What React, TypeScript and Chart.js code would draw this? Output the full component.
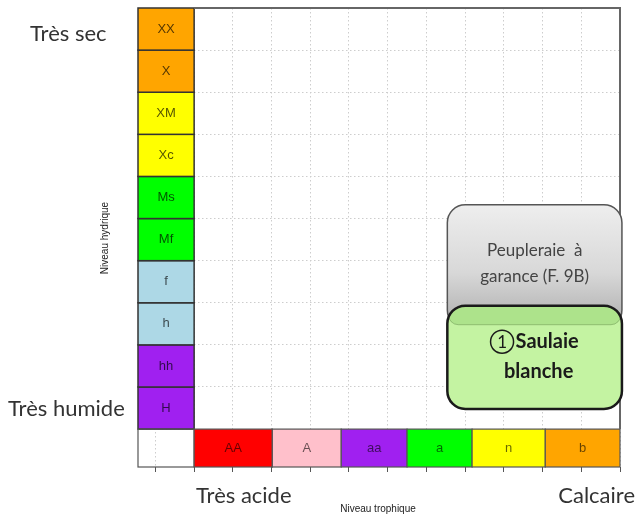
import React, { useEffect, useRef } from 'react';
import { Chart, registerables } from 'chart.js';

Chart.register(...registerables);

// Hydric levels (y axis), bottom to top
const hydricLevels = ['H', 'hh', 'h', 'f', 'Mf', 'Ms', 'Xc', 'XM', 'X', 'XX'];
const hydricColors = ['#A020F0', '#A020F0', '#ADD8E6', '#ADD8E6', '#00FF00', '#00FF00', '#FFFF00', '#FFFF00', '#FFA500', '#FFA500'];

// Trophic levels (x axis), left to right
const trophicLevels = ['AA', 'A', 'aa', 'a', 'n', 'b'];
const trophicColors = ['#FF0000', '#FFC0CB', '#A020F0', '#00FF00', '#FFFF00', '#FFA500'];
const trophicEdges = [0, 2.02, 3.8, 5.5, 7.18, 9.07, 11];

// Vegetation groups (boxes in data units)
const groupLines = [['Peupleraie  à', 'garance (F. 9B)'], ['Saulaie', 'blanche']];
const groupNumbers = ['', '1'];
const groupX0 = [6.54, 6.54];
const groupX1 = [11.05, 11.05];
const groupY0 = [2.4, 0.48];
const groupY1 = [5.33, 2.93];

const axisEndLabels = { ySec: 'Très sec', yHum: 'Très humide', xAcid: 'Très acide', xCalc: 'Calcaire' };
const xTitle = 'Niveau trophique';
const yTitle = 'Niveau hydrique';

const SANS = 'Lato, "Open Sans", sans-serif';

function rr(ctx: CanvasRenderingContext2D, x: number, y: number, w: number, h: number, r: number) {
  ctx.beginPath();
  ctx.moveTo(x + r, y);
  ctx.lineTo(x + w - r, y);
  ctx.arcTo(x + w, y, x + w, y + r, r);
  ctx.lineTo(x + w, y + h - r);
  ctx.arcTo(x + w, y + h, x + w - r, y + h, r);
  ctx.lineTo(x + r, y + h);
  ctx.arcTo(x, y + h, x, y + h - r, r);
  ctx.lineTo(x, y + r);
  ctx.arcTo(x, y, x + r, y, r);
  ctx.closePath();
}

const ecogramPlugin = {
  id: 'ecogram',
  afterDraw(chart: any) {
    const { ctx, scales } = chart;
    const xs = scales.x;
    const ys = scales.y;
    const px = (v: number) => xs.getPixelForValue(v);
    const py = (v: number) => ys.getPixelForValue(v);
    const xMin = xs.min;
    const yMin = ys.min;
    ctx.save();

    // hydric column
    hydricLevels.forEach((lab, i) => {
      const l = px(xMin), r = px(0), t = py(i + 1), b = py(i);
      ctx.fillStyle = hydricColors[i];
      ctx.fillRect(l, t, r - l, b - t);
      ctx.strokeStyle = '#333';
      ctx.lineWidth = 1.5;
      ctx.strokeRect(l, t, r - l, b - t);
      ctx.fillStyle = 'rgba(0,0,0,0.68)';
      ctx.font = '13px "Liberation Sans", Arial, sans-serif';
      ctx.textAlign = 'center';
      ctx.textBaseline = 'middle';
      ctx.fillText(lab, (l + r) / 2, (t + b) / 2);
    });

    // trophic strip
    {
      const l = px(xMin), r = px(0), t = py(0), b = py(yMin);
      ctx.strokeStyle = '#555';
      ctx.lineWidth = 1.2;
      ctx.strokeRect(l, t, r - l, b - t);
    }
    trophicLevels.forEach((lab, i) => {
      const l = px(trophicEdges[i]), r = px(trophicEdges[i + 1]), t = py(0), b = py(yMin);
      ctx.fillStyle = trophicColors[i];
      ctx.fillRect(l, t, r - l, b - t);
      ctx.strokeStyle = '#555';
      ctx.lineWidth = 1.2;
      ctx.strokeRect(l, t, r - l, b - t);
      ctx.fillStyle = 'rgba(0,0,0,0.6)';
      ctx.font = '13px "Liberation Sans", Arial, sans-serif';
      ctx.textAlign = 'center';
      ctx.textBaseline = 'middle';
      ctx.fillText(lab, (l + r) / 2, (t + b) / 2);
    });

    // plot frame
    {
      const l = px(0), r = px(11), t = py(10), b = py(0);
      ctx.strokeStyle = '#666';
      ctx.lineWidth = 2;
      ctx.beginPath();
      ctx.moveTo(l, t);
      ctx.lineTo(r, t);
      ctx.lineTo(r, b);
      ctx.stroke();
    }

    // group boxes
    groupLines.forEach((lines, i) => {
      const l = px(groupX0[i]), r = px(groupX1[i]), t = py(groupY1[i]), b = py(groupY0[i]);
      const w = r - l, h = b - t;
      const cx = (l + r) / 2;
      if (i === 0) {
        const g = ctx.createLinearGradient(0, t, 0, b);
        g.addColorStop(0, '#eeeeee');
        g.addColorStop(0.55, '#d8d8d8');
        g.addColorStop(1, '#acacac');
        rr(ctx, l, t, w, h, 18);
        ctx.fillStyle = g;
        ctx.fill();
        ctx.strokeStyle = '#555';
        ctx.lineWidth = 1.5;
        ctx.stroke();
        ctx.fillStyle = '#444';
        ctx.font = '17px ' + SANS;
        ctx.textAlign = 'center';
        ctx.textBaseline = 'middle';
        ctx.fillText(lines[0], cx, t + 46);
        ctx.fillText(lines[1], cx, t + 72);
      } else {
        rr(ctx, l, t, w, h, 18);
        ctx.fillStyle = '#c4f3a2';
        ctx.fill();
        ctx.save();
        rr(ctx, l, t, w, h, 18);
        ctx.clip();
        rr(ctx, l + 1, t, w - 2, 19, 10);
        ctx.fillStyle = '#ade38b';
        ctx.fill();
        ctx.strokeStyle = 'rgba(70,110,50,0.35)';
        ctx.lineWidth = 1;
        ctx.stroke();
        ctx.restore();
        rr(ctx, l, t, w, h, 18);
        ctx.strokeStyle = '#1a1a1a';
        ctx.lineWidth = 2.5;
        ctx.stroke();

        ctx.fillStyle = '#1a1a1a';
        ctx.font = 'bold 20px ' + SANS;
        ctx.textBaseline = 'middle';
        const tw = ctx.measureText(lines[0]).width;
        const cr = 11.5;
        const total = cr * 2 + 2 + tw;
        const sx = cx - total / 2;
        const ly = t + 36;
        ctx.beginPath();
        ctx.arc(sx + cr, ly, cr, 0, Math.PI * 2);
        ctx.lineWidth = 1.5;
        ctx.strokeStyle = '#1a1a1a';
        ctx.stroke();
        ctx.textAlign = 'center';
        ctx.font = '17px ' + SANS;
        ctx.fillText(groupNumbers[i], sx + cr, ly + 1);
        ctx.font = 'bold 20px ' + SANS;
        ctx.textAlign = 'left';
        ctx.fillText(lines[0], sx + cr * 2 + 2, ly);
        ctx.textAlign = 'center';
        ctx.fillText(lines[1], cx + 4, ly + 30);
      }
    });

    // axis end labels
    ctx.fillStyle = '#333';
    ctx.font = '22px ' + SANS;
    ctx.textBaseline = 'alphabetic';
    ctx.textAlign = 'left';
    ctx.fillText(axisEndLabels.ySec, 30, 41);
    ctx.fillText(axisEndLabels.yHum, 8, 416);
    ctx.fillText(axisEndLabels.xAcid, 196, 503);
    ctx.textAlign = 'right';
    ctx.fillText(axisEndLabels.xCalc, 635, 503);

    // axis titles
    ctx.fillStyle = '#222';
    ctx.font = '10px "Liberation Sans", Arial, sans-serif';
    ctx.textAlign = 'center';
    ctx.textBaseline = 'middle';
    ctx.fillText(xTitle, 378, 509);
    ctx.save();
    ctx.translate(105, 238);
    ctx.rotate(-Math.PI / 2);
    ctx.fillText(yTitle, 0, 0);
    ctx.restore();

    ctx.restore();
  },
};

export default function App() {
  const ref = useRef<HTMLCanvasElement | null>(null);
  useEffect(() => {
    if (!ref.current) return;
    const chart = new Chart(ref.current, {
      type: 'scatter',
      data: { datasets: [] },
      options: {
        animation: false,
        responsive: false,
        maintainAspectRatio: false,
        devicePixelRatio: 1,
        layout: { padding: { top: 8, right: 19, left: 0, bottom: 0 } },
        plugins: { legend: { display: false }, tooltip: { enabled: false } },
        scales: {
          x: {
            type: 'linear',
            min: -1.45,
            max: 11,
            ticks: { stepSize: 1, display: false, includeBounds: false },
            grid: { color: '#cdcdcd', lineWidth: 1, drawTicks: true, tickLength: 5, tickColor: '#555', tickWidth: 1 },
            border: { display: false, dash: [1.5, 2.5] },
            afterFit: (s: any) => { s.height = 48; },
          },
          y: {
            type: 'linear',
            min: -0.9,
            max: 10,
            ticks: { stepSize: 1, display: false, includeBounds: false },
            grid: { color: '#cdcdcd', lineWidth: 1, drawTicks: false },
            border: { display: false, dash: [1.5, 2.5] },
            afterFit: (s: any) => { s.width = 138; },
          },
        },
      } as any,
      plugins: [ecogramPlugin],
    });
    return () => chart.destroy();
  }, []);
  return (
    <div style={{ position: 'absolute', left: 0, top: 0, width: 639, height: 515, background: '#fff' }}>
      <canvas ref={ref} width={639} height={515} style={{ display: 'block' }} />
    </div>
  );
}
